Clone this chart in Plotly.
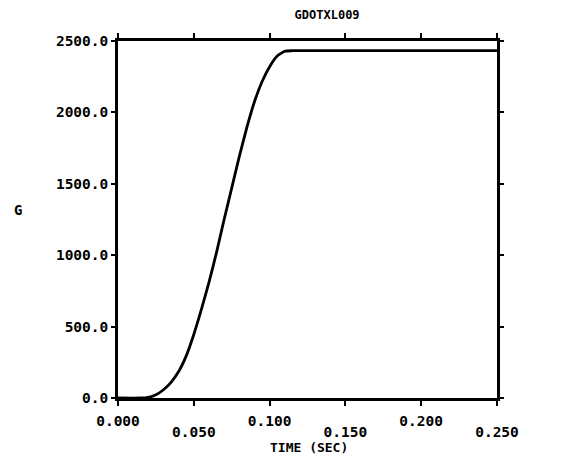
import plotly.graph_objects as go

# Data
time_sec = [0.0, 0.015, 0.019, 0.025, 0.030, 0.035, 0.040, 0.045, 0.050, 0.055,
            0.060, 0.065, 0.070, 0.075, 0.080, 0.085, 0.090, 0.095, 0.100, 0.105,
            0.110, 0.115, 0.150, 0.200, 0.250]
g_values = [0, 0, 2, 22, 58, 110, 185, 295, 445, 620,
            810, 1020, 1250, 1470, 1690, 1895, 2075, 2215, 2320, 2395,
            2428, 2432, 2432, 2432, 2432]

x_tick_vals = [0.0, 0.05, 0.10, 0.15, 0.20, 0.25]
x_upper_vals = [0.0, 0.10, 0.20]
x_upper_text = ["0.000", "0.100", "0.200"]
x_lower_vals = [0.05, 0.15, 0.25]
x_lower_text = ["0.050", "0.150", "0.250"]
y_tick_vals = [0, 500, 1000, 1500, 2000, 2500]
y_tick_text = ["0.0", "500.0", "1000.0", "1500.0", "2000.0", "2500.0"]

title_text = "GDOTXL009"
x_title = "TIME (SEC)"
y_title = "G"

font_family = "DejaVu Sans Mono"
tick_font = dict(family=font_family, size=14.5, color="black", weight="bold")

fig = go.Figure()
fig.add_trace(go.Scatter(
    x=time_sec, y=g_values, mode="lines",
    line=dict(color="black", width=2.8, shape="spline", smoothing=0.5),
    showlegend=False, hoverinfo="skip",
))
# invisible copy so the second (lower-row) x axis is drawn
fig.add_trace(go.Scatter(
    x=time_sec, y=g_values, mode="lines", xaxis="x2",
    line=dict(color="rgba(0,0,0,0)", width=0),
    showlegend=False, hoverinfo="skip",
))

fig.update_layout(
    xaxis=dict(
        range=[0, 0.25], tickmode="array", tickvals=x_tick_vals,
        ticktext=[x_upper_text[x_upper_vals.index(v)] if v in x_upper_vals else "" for v in x_tick_vals],
        showline=True, linecolor="black", linewidth=2.6,
        mirror="allticks", ticks="outside", ticklen=5, tickwidth=2, tickcolor="black",
        showgrid=False, zeroline=False, tickfont=tick_font, ticklabelstandoff=3,
    ),
    xaxis2=dict(
        range=[0, 0.25], overlaying="x", side="bottom", anchor="y",
        tickmode="array", tickvals=x_lower_vals, ticktext=x_lower_text,
        showline=False, ticks="", showgrid=False, zeroline=False,
        tickfont=tick_font, ticklabelstandoff=23,
    ),
    yaxis=dict(
        range=[0, 2500], tickmode="array", tickvals=y_tick_vals, ticktext=y_tick_text,
        showline=True, linecolor="black", linewidth=2.6,
        mirror="allticks", ticks="outside", ticklen=4, tickwidth=2, tickcolor="black",
        showgrid=False, zeroline=False, tickfont=tick_font,
    ),
)

fig.add_annotation(
    text=y_title, xref="paper", yref="paper", x=-0.264, y=0.527,
    showarrow=False, xanchor="center", yanchor="middle",
    font=dict(family=font_family, size=14, color="black", weight="bold"),
)
fig.add_annotation(
    text=x_title, xref="paper", yref="paper", x=0.505, y=-0.138,
    showarrow=False, xanchor="center", yanchor="middle",
    font=dict(family=font_family, size=13, color="black", weight="bold"),
)

fig.update_layout(
    width=553, height=461,
    margin=dict(l=110, r=64, t=33, b=71),
    paper_bgcolor="white", plot_bgcolor="white",
    title=dict(text=title_text, x=0.577, xanchor="center", y=0.995, yanchor="top",
               pad=dict(t=0, b=0),
               font=dict(family=font_family, size=12, color="black", weight="bold")),
)

fig.write_html("out.html")
